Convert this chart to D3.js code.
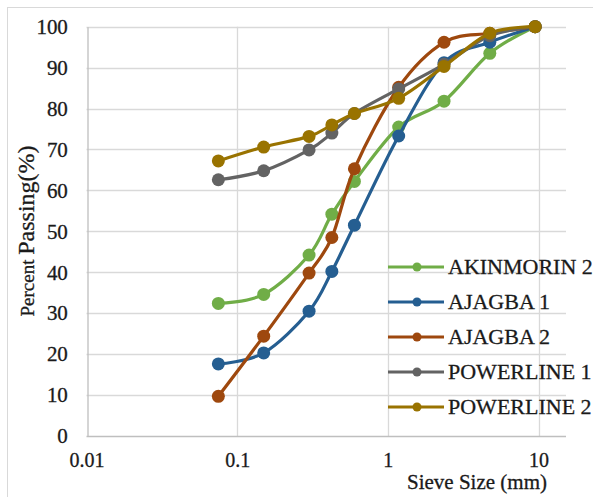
<!DOCTYPE html>
<html>
<head>
<meta charset="utf-8">
<script src="https://cdn.jsdelivr.net/npm/d3@7"></script>
<style>
  html, body { margin: 0; padding: 0; background: #fff; }
  svg { display: block; }
</style>
</head>
<body>
<div id="chart"></div>
<script>
// ---- Data ----
const sieveSizes = [0.075, 0.15, 0.3, 0.425, 0.6, 1.18, 2.36, 4.75, 9.5];
const seriesNames = ["AKINMORIN 2", "AJAGBA 1", "AJAGBA 2", "POWERLINE 1", "POWERLINE 2"];
const akinmorin2 = [32.4, 34.6, 44.2, 54.2, 62.2, 75.5, 81.8, 93.5, 100];
const ajagba1    = [17.6, 20.3, 30.5, 40.2, 51.5, 73.3, 91.2, 96.2, 100];
const ajagba2    = [9.7, 24.4, 39.8, 48.5, 65.3, 85.2, 96.2, 98.4, 100];
const powerline1 = [62.6, 64.8, 69.9, 74.0, 78.8, 84.8, 90.8, 97.8, 100];
const powerline2 = [67.2, 70.6, 73.2, 76.0, 78.8, 82.5, 90.3, 98.4, 100];
const seriesColors = ["#70AD47", "#255E91", "#9E480E", "#636363", "#997300"];
const xTickValues = [0.01, 0.1, 1, 10];
const xTickLabels = ["0.01", "0.1", "1", "10"];
const yTickValues = [0, 10, 20, 30, 40, 50, 60, 70, 80, 90, 100];

const seriesValues = [akinmorin2, ajagba1, ajagba2, powerline1, powerline2];

const FONT = "'Liberation Serif', 'Times New Roman', Times, serif";
const TXT = "#1a1a1a";

// ---- Layout ----
const W = 593, H = 497;
const svg = d3.select("#chart").append("svg").attr("width", W).attr("height", H)
  .style("font-family", FONT);

function heavy(sel) {
  return sel.attr("stroke", TXT).attr("stroke-width", 0.3);
}

// outer chart border
svg.append("rect").attr("x", 7.5).attr("y", 7.5).attr("width", 620).attr("height", 520)
  .attr("fill", "none").attr("stroke", "#d9d9d9").attr("stroke-width", 1);

const x = d3.scaleLog().domain([0.01, 15.22]).range([86.5, 566]);
const y = d3.scaleLinear().domain([0, 100]).range([436, 26.7]);

// gridlines
const grid = svg.append("g");
grid.selectAll("line.h").data(yTickValues.filter(v => v > 0)).enter().append("line")
  .attr("x1", x(0.01)).attr("x2", 566)
  .attr("y1", d => Math.round(y(d)) + 0.5).attr("y2", d => Math.round(y(d)) + 0.5)
  .attr("stroke", "#d9d9d9").attr("stroke-width", 1.3);
grid.selectAll("line.v").data(xTickValues.slice(1)).enter().append("line")
  .attr("x1", d => Math.round(x(d)) + 0.5).attr("x2", d => Math.round(x(d)) + 0.5)
  .attr("y1", y(100)).attr("y2", y(0))
  .attr("stroke", "#d9d9d9").attr("stroke-width", 1.3);

// axes
const xAxis = d3.axisBottom(x).tickValues(xTickValues)
  .tickFormat((d, i) => xTickLabels[i]).tickSize(0).tickPadding(0);
const gx = svg.append("g").attr("transform", `translate(0,${Math.round(y(0)) + 0.5})`).call(xAxis)
  .attr("font-family", FONT);
gx.select(".domain").attr("stroke", "#bfbfbf").attr("stroke-width", 1.3)
  .attr("d", `M${x(0.01)},0H566`);
heavy(gx.selectAll("text").attr("y", 30).attr("dy", null)
  .style("font-family", FONT).style("font-size", "20px").attr("fill", TXT));

const yAxis = d3.axisLeft(y).tickValues(yTickValues).tickSize(0).tickPadding(20);
const gy = svg.append("g").attr("transform", `translate(${Math.round(x(0.01)) + 0.5},0)`).call(yAxis)
  .attr("font-family", FONT);
gy.select(".domain").attr("stroke", "#bfbfbf").attr("stroke-width", 1.3);
heavy(gy.selectAll("text").style("font-family", FONT).style("font-size", "21px")
  .attr("fill", TXT).attr("letter-spacing", "-0.2px"));

// axis titles
heavy(svg.append("text").attr("x", 477).attr("y", 489).attr("text-anchor", "middle")
  .style("font-family", FONT).style("font-size", "21px").attr("fill", TXT)
  .text("Sieve Size (mm)"));

const yt = svg.append("text").attr("transform", "translate(34,231) rotate(-90)")
  .attr("text-anchor", "middle").style("font-family", FONT).attr("fill", TXT);
yt.append("tspan").style("font-size", "19px").text("Percent ");
yt.append("tspan").style("font-size", "24px").text("Passing(%)");
heavy(yt);

// series
const line = d3.line()
  .x((d, i) => x(sieveSizes[i]))
  .y(d => y(d))
  .curve(d3.curveCatmullRom.alpha(0));

seriesValues.forEach((vals, si) => {
  const g = svg.append("g");
  g.append("path").datum(vals).attr("d", line)
    .attr("fill", "none").attr("stroke", seriesColors[si]).attr("stroke-width", 3.2)
    .attr("stroke-linejoin", "round");
  g.selectAll("circle").data(vals).enter().append("circle")
    .attr("cx", (d, i) => x(sieveSizes[i])).attr("cy", d => y(d)).attr("r", 6.5)
    .attr("fill", seriesColors[si]);
});

// legend
const legY0 = 267, legStep = 35;
const leg = svg.append("g");
seriesNames.forEach((name, i) => {
  const ly = legY0 + i * legStep;
  leg.append("line").attr("x1", 388).attr("x2", 444).attr("y1", ly).attr("y2", ly)
    .attr("stroke", seriesColors[i]).attr("stroke-width", 3);
  leg.append("circle").attr("cx", 417).attr("cy", ly).attr("r", 4.5).attr("fill", seriesColors[i]);
  heavy(leg.append("text").attr("x", 448).attr("y", ly + 7)
    .style("font-family", FONT).style("font-size", "22px").attr("fill", TXT)
    .text(name));
});
</script>
</body>
</html>
